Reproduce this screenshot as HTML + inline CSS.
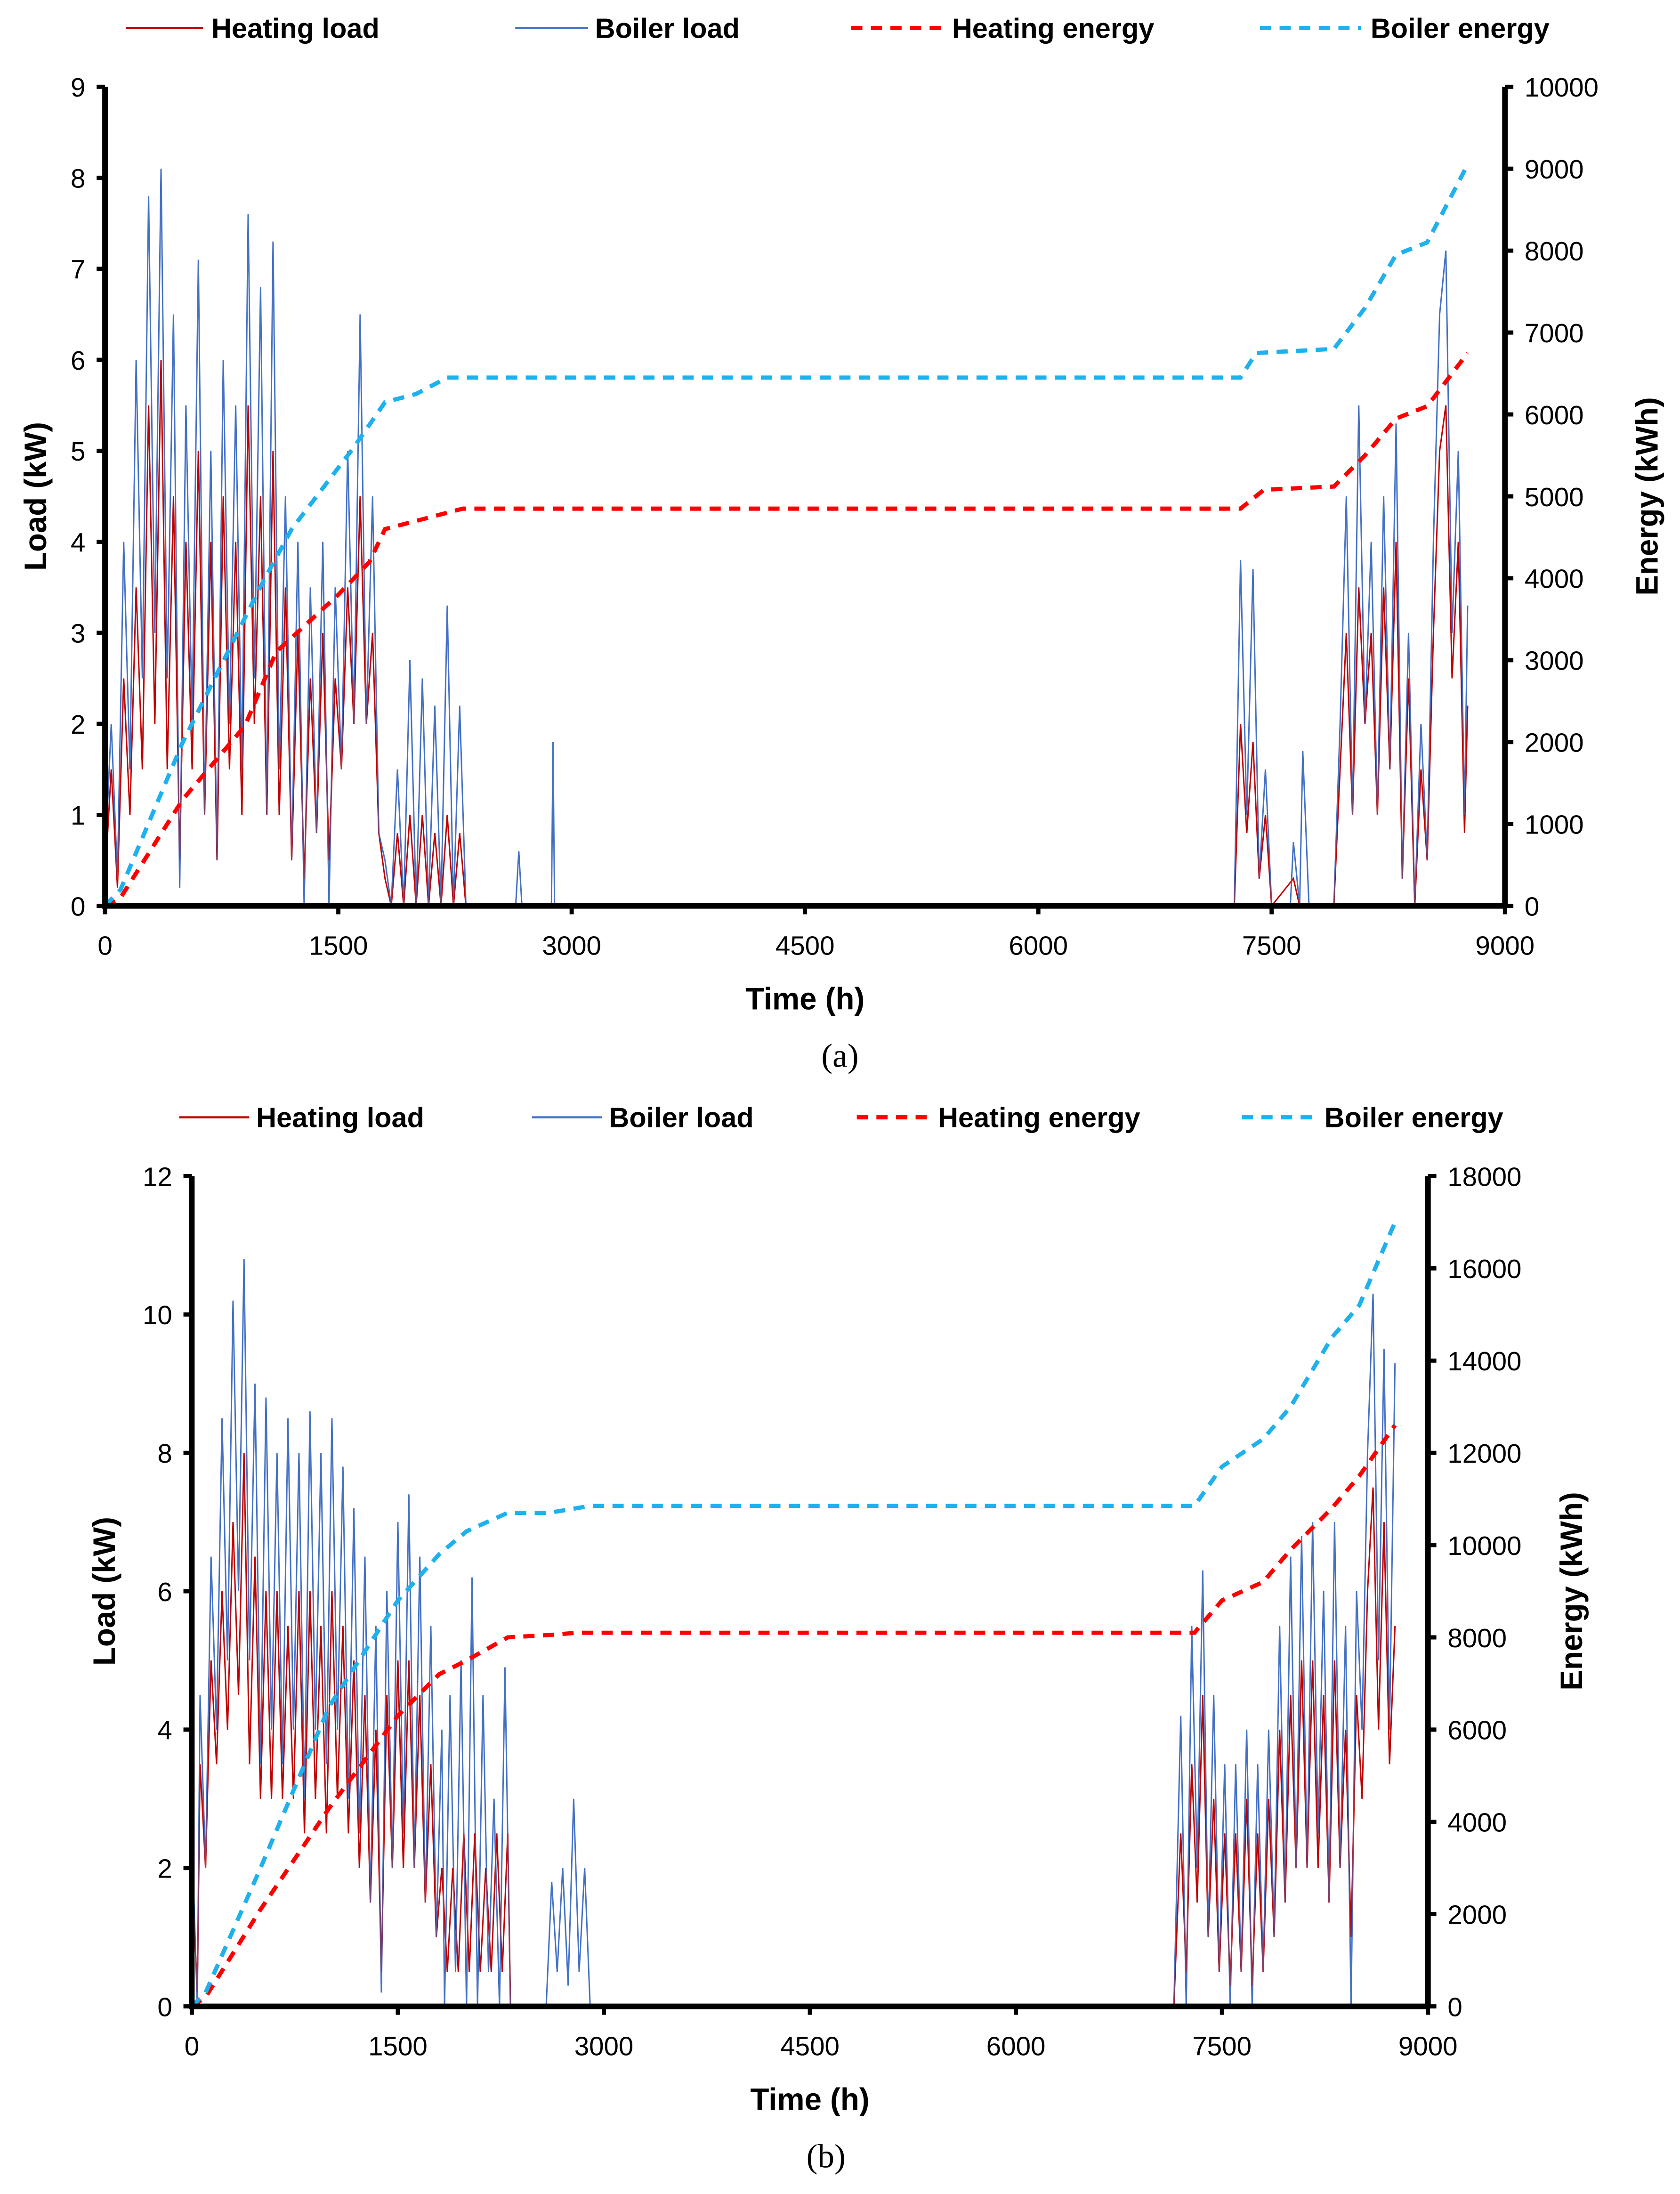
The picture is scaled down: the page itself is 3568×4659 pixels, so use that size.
<!DOCTYPE html>
<html><head><meta charset="utf-8"><style>
html,body{margin:0;padding:0;background:#fff}
svg{display:block}
text{font-family:"Liberation Sans",sans-serif;fill:#000}
</style></head><body>
<svg id="fig" width="3568" height="4659" viewBox="0 0 1200 1567" xmlns="http://www.w3.org/2000/svg"></svg>
<script>
const xTicks=[0,1500,3000,4500,6000,7500,9000];
const yTicksA=[0,1,2,3,4,5,6,7,8,9];
const y2TicksA=[0,1000,2000,3000,4000,5000,6000,7000,8000,9000,10000];
const yTicksB=[0,2,4,6,8,10,12];
const y2TicksB=[0,2000,4000,6000,8000,10000,12000,14000,16000,18000];

const boilerLoadA=[[0,0.5],[40,2.0],[80,0.3],[120,4.0],[160,1.5],[200,6.0],[240,2.5],[280,7.8],[320,3.0],[360,8.1],[400,2.5],[440,6.5],[480,0.2],[520,5.5],[560,2.0],[600,7.1],[640,1.0],[680,5.0],[720,0.5],[760,6.0],[800,2.0],[840,5.5],[880,1.5],[920,7.6],[960,2.5],[1000,6.8],[1040,1.0],[1080,7.3],[1120,1.5],[1160,4.5],[1200,0.5],[1240,4.0],[1280,0],[1320,3.5],[1360,0.8],[1400,4.0],[1440,0],[1480,3.5],[1520,1.5],[1560,5.0],[1600,2.0],[1640,6.5],[1680,2.0],[1720,4.5],[1760,0.8],[1800,0.5],[1840,0],[1880,1.5],[1920,0],[1960,2.7],[2000,0],[2040,2.5],[2080,0],[2120,2.2],[2160,0],[2200,3.3],[2240,0],[2280,2.2],[2320,0],[2640,0],[2660,0.6],[2680,0],[2870,0],[2880,1.8],[2890,0],[7260,0],[7300,3.8],[7340,1.0],[7380,3.7],[7420,0.3],[7460,1.5],[7500,0],[7620,0],[7640,0.7],[7680,0],[7700,1.7],[7740,0],[7900,0],[7940,2.0],[7980,4.5],[8020,1.0],[8060,5.5],[8100,2.0],[8140,4.0],[8180,1.0],[8220,4.5],[8260,1.5],[8300,5.3],[8340,0.3],[8380,3.0],[8420,0],[8460,2.0],[8500,0.5],[8540,4.0],[8580,6.5],[8620,7.2],[8660,3.0],[8700,5.0],[8740,1.0],[8760,3.3]];
const heatLoadA=[[0,0.3],[40,1.5],[80,0.2],[120,2.5],[160,1.0],[200,3.5],[240,1.5],[280,5.5],[320,2.0],[360,6.0],[400,1.5],[440,4.5],[480,0.5],[520,4.0],[560,1.5],[600,5.0],[640,1.0],[680,4.0],[720,0.5],[760,4.5],[800,1.5],[840,4.0],[880,1.0],[920,5.5],[960,2.0],[1000,4.5],[1040,1.0],[1080,5.0],[1120,1.0],[1160,3.5],[1200,0.5],[1240,3.0],[1280,0.3],[1320,2.5],[1360,0.8],[1400,3.0],[1440,0.5],[1480,2.5],[1520,1.5],[1560,3.5],[1600,2.0],[1640,4.5],[1680,2.0],[1720,3.0],[1760,0.8],[1800,0.3],[1840,0],[1880,0.8],[1920,0],[1960,1.0],[2000,0],[2040,1.0],[2080,0],[2120,0.8],[2160,0],[2200,1.0],[2240,0],[2280,0.8],[2320,0],[7260,0],[7300,2.0],[7340,0.8],[7380,1.8],[7420,0.3],[7460,1.0],[7500,0],[7640,0.3],[7680,0],[7900,0],[7940,1.5],[7980,3.0],[8020,1.0],[8060,3.5],[8100,2.0],[8140,3.0],[8180,1.0],[8220,3.5],[8260,1.5],[8300,4.0],[8340,0.3],[8380,2.5],[8420,0],[8460,1.5],[8500,0.5],[8540,3.0],[8580,5.0],[8620,5.5],[8660,2.5],[8700,4.0],[8740,0.8],[8760,2.2]];
const heatEnergyA=[[0,0],[100,100],[500,1300],[900,2200],[1100,3100],[1500,3800],[1700,4200],[1800,4600],[2000,4700],[2300,4850],[7300,4850],[7450,5080],[7900,5120],[8100,5500],[8300,5950],[8500,6100],[8760,6750]];
const boilerEnergyA=[[0,0],[100,200],[500,2000],[1000,3900],[1200,4600],[1600,5600],[1800,6150],[2000,6250],[2200,6450],[2300,6450],[7300,6450],[7400,6750],[7900,6800],[8100,7300],[8300,7950],[8500,8100],[8760,9050]];

const boilerLoadB=[[0,2.5],[40,0],[60,4.5],[100,2],[140,6.5],[180,4],[220,8.5],[260,5],[300,10.2],[340,6],[380,10.8],[420,5],[460,9],[500,3.5],[540,8.8],[580,4],[620,8],[660,3.5],[700,8.5],[740,4],[780,8],[820,3],[860,8.6],[900,4],[940,8],[980,3.5],[1020,8.5],[1060,4],[1100,7.8],[1140,3],[1180,7.2],[1220,2.5],[1260,6.5],[1300,1.5],[1340,5.5],[1380,0.2],[1420,6],[1460,2],[1500,7],[1540,2.5],[1580,7.4],[1620,2],[1660,6.5],[1700,1.5],[1740,5.5],[1780,1],[1820,4],[1840,0],[1880,4.5],[1920,0.5],[1960,5],[2000,0],[2040,6.2],[2080,0],[2120,4.5],[2160,0.5],[2200,3],[2240,0],[2280,4.9],[2320,0],[2580,0],[2620,1.8],[2660,0.5],[2700,2.0],[2740,0.3],[2780,3.0],[2820,0.5],[2860,2.0],[2900,0],[7150,0],[7200,4.2],[7240,0],[7280,5.5],[7320,2],[7360,6.3],[7400,1],[7440,4.5],[7480,0.5],[7520,3.5],[7560,0],[7600,3.5],[7640,0.5],[7680,4],[7720,0],[7760,3.5],[7800,0.5],[7840,4],[7880,1],[7920,5.5],[7960,1.5],[8000,6.5],[8040,2],[8080,6.8],[8120,2],[8160,7],[8200,2.5],[8240,6],[8280,1.5],[8320,7],[8360,2],[8400,5.5],[8440,0],[8480,6],[8520,4],[8560,8],[8600,10.3],[8640,5],[8680,9.5],[8720,4],[8760,9.3]];
const heatLoadB=[[0,2.0],[40,0.2],[60,3.5],[100,2],[140,5],[180,3.5],[220,6],[260,4],[300,7],[340,4.5],[380,8],[420,3.5],[460,6.5],[500,3],[540,6],[580,3],[620,6],[660,3],[700,5.5],[740,3],[780,6],[820,2.5],[860,6],[900,3],[940,5.5],[980,2.5],[1020,6],[1060,3],[1100,5.5],[1140,2.5],[1180,5],[1220,2],[1260,4.5],[1300,1.5],[1340,4],[1380,0.5],[1420,4.5],[1460,2],[1500,5],[1540,2],[1580,5],[1620,2],[1660,4.5],[1700,1.5],[1740,3.5],[1780,1],[1820,2],[1860,0.5],[1900,2],[1940,0.5],[1980,2.5],[2020,0.5],[2060,2.5],[2100,0.5],[2140,2],[2180,0.5],[2220,2.5],[2260,0.5],[2300,2.5],[2320,0],[7150,0],[7200,2.5],[7240,0.5],[7280,3.5],[7320,1.5],[7360,4.5],[7400,1],[7440,3],[7480,0.5],[7520,2.5],[7560,0.3],[7600,2.5],[7640,0.5],[7680,3],[7720,0.3],[7760,2.5],[7800,0.5],[7840,3],[7880,1],[7920,4],[7960,1.5],[8000,4.5],[8040,2],[8080,5],[8120,2],[8160,5],[8200,2],[8240,4.5],[8280,1.5],[8320,5],[8360,2],[8400,4],[8440,1],[8480,4.5],[8520,3],[8560,6],[8600,7.5],[8640,4],[8680,7],[8720,3.5],[8760,5.5]];
const heatEnergyB=[[0,0],[100,200],[500,2100],[1000,4300],[1500,6300],[1800,7200],[2000,7500],[2300,8000],[2600,8050],[2800,8100],[7300,8100],[7500,8800],[7800,9200],[8000,9900],[8300,10800],[8500,11500],[8760,12600]];
const boilerEnergyB=[[0,0],[100,300],[500,3000],[1000,6500],[1500,8800],[1800,9800],[2000,10300],[2300,10700],[2600,10700],[2900,10850],[7300,10850],[7500,11700],[7800,12300],[8000,13000],[8300,14500],[8500,15200],[8760,17000]];

const NS="http://www.w3.org/2000/svg";
const svg=document.getElementById('fig');
function mk(tag,attrs,parent){const e=document.createElementNS(NS,tag);for(const k in attrs)e.setAttribute(k,attrs[k]);(parent||svg).appendChild(e);return e;}
function txt(s,attrs,parent){const e=mk('text',attrs,parent);e.textContent=s;return e;}

function chart(cfg){
  const g=mk('g',{});
  
  
  const L=cfg.left,R=cfg.right,T=cfg.top,B=cfg.bottom;
  const xs=v=>L+(v-0)/9000*(R-L);
  const ys=v=>B-v/cfg.yMax*(B-T);
  const ys2=v=>B-v/cfg.y2Max*(B-T);
  const path=(data,sx,sy)=>data.map((p,i)=>(i?'L':'M')+sx(p[0]).toFixed(2)+' '+sy(p[1]).toFixed(2)).join(' ');
  // series
  const bl=mk('path',{d:path(cfg.boilerLoad,xs,ys),fill:'none',stroke:'#4472c4','stroke-width':1},g);
  
  
  const hl=mk('path',{d:path(cfg.heatLoad,xs,ys),fill:'none',stroke:'#c00000','stroke-width':1},g);
  
  
  const bl2=mk('path',{d:path(cfg.boilerLoad,xs,ys),fill:'none',stroke:'#4472c4','stroke-width':0.8,opacity:0.6},g);
  
  
  const he=mk('path',{d:path(cfg.heatEnergy,xs,ys2),fill:'none',stroke:'#ff0000','stroke-width':3,'stroke-dasharray':'8 6'},g);
  
  
  const be=mk('path',{d:path(cfg.boilerEnergy,xs,ys2),fill:'none',stroke:'#1fb0ee','stroke-width':3,'stroke-dasharray':'8 6'},g);
  
  
  // axes
  const ax=mk('path',{d:`M${L} ${T} V${B} H${R} M${R} ${T} V${B}`,fill:'none',stroke:'#000','stroke-width':4},g);
  
  
  cfg.yTicks.forEach(v=>{
    mk('line',{x1:L-6,x2:L,y1:ys(v),y2:ys(v),stroke:'#000','stroke-width':3},g);
    const t=txt(String(v),{x:L-14,y:ys(v)+7,'text-anchor':'end','font-size':19},g);
    
    
  });
  cfg.y2Ticks.forEach(v=>{
    mk('line',{x1:R,x2:R+6,y1:ys2(v),y2:ys2(v),stroke:'#000','stroke-width':3},g);
    const t=txt(String(v),{x:R+14,y:ys2(v)+7,'text-anchor':'start','font-size':19},g);
    
    
  });
  xTicks.forEach(v=>{
    mk('line',{x1:xs(v),x2:xs(v),y1:B,y2:B+6,stroke:'#000','stroke-width':3},g);
    const t=txt(String(v),{x:xs(v),y:B+35,'text-anchor':'middle','font-size':19},g);
    
    
  });
  const xt=txt('Time (h)',{x:(L+R)/2,y:B+74,'text-anchor':'middle','font-size':22,'font-weight':'bold'},g);
  
  
  const yt=txt('Load (kW)',{x:0,y:0,'text-anchor':'middle','font-size':22,'font-weight':'bold',transform:`translate(${cfg.ytX},${(T+B)/2}) rotate(-90)`},g);
  
  
  const y2t=txt('Energy (kWh)',{x:0,y:0,'text-anchor':'middle','font-size':22,'font-weight':'bold',transform:`translate(${cfg.y2tX},${(T+B)/2}) rotate(-90)`},g);
  
  
  const cap=txt(cfg.caption,{x:cfg.capX,y:B+115,'text-anchor':'middle','font-size':24,style:'font-family:"Liberation Serif",serif'},g);
  
  
  // legend
  const ly=cfg.legY;
  cfg.leg.forEach(it=>{
    const lg=mk('g',{},g);
    
    
    mk('line',{x1:it.x1,x2:it.x2,y1:ly,y2:ly,stroke:it.c,'stroke-width':it.d?3:1.5,'stroke-dasharray':it.d?'8 6':'none'},lg);
    txt(it.t,{x:it.tx,y:ly+7,'font-size':20,'font-weight':'bold'},lg);
  });
}

chart({id:'chart-a',left:75,right:1075,top:62,bottom:647,yMax:9,y2Max:10000,yTicks:yTicksA,y2Ticks:y2TicksA,
  boilerLoad:boilerLoadA,heatLoad:heatLoadA,heatEnergy:heatEnergyA,boilerEnergy:boilerEnergyA,
  ytX:33,y2tX:1184,caption:'(a)',capX:600,legY:20,
  leg:[{x1:90,x2:145,c:'#c00000',t:'Heating load',tx:151},{x1:368,x2:420,c:'#4472c4',t:'Boiler load',tx:425},
       {x1:608,x2:672,c:'#ff0000',d:1,t:'Heating energy',tx:680},{x1:900,x2:972,c:'#1fb0ee',d:1,t:'Boiler energy',tx:979}]});
chart({id:'chart-b',left:137,right:1020,top:840,bottom:1433,yMax:12,y2Max:18000,yTicks:yTicksB,y2Ticks:y2TicksB,
  boilerLoad:boilerLoadB,heatLoad:heatLoadB,heatEnergy:heatEnergyB,boilerEnergy:boilerEnergyB,
  ytX:82,y2tX:1130,caption:'(b)',capX:590,legY:798,
  leg:[{x1:128,x2:178,c:'#c00000',t:'Heating load',tx:183},{x1:380,x2:430,c:'#4472c4',t:'Boiler load',tx:435},
       {x1:612,x2:662,c:'#ff0000',d:1,t:'Heating energy',tx:670},{x1:887,x2:940,c:'#1fb0ee',d:1,t:'Boiler energy',tx:946}]});
</script>
</body></html>
